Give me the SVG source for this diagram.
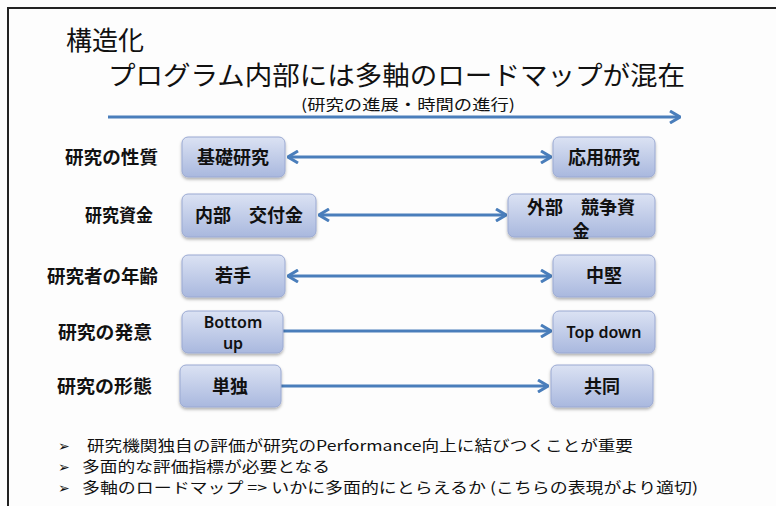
<svg xmlns="http://www.w3.org/2000/svg" width="776" height="506" viewBox="0 0 776 506">
<style>
  .cjk { font-family: "Noto Sans CJK JP", "Noto Sans", sans-serif; fill: #111; }
  .lbl { font-size: 18px; font-weight: 700; }
  .bt { font-size: 18px; font-weight: 700; text-anchor: middle; }
  .lat { font-family: "Noto Sans", "Noto Sans CJK JP", sans-serif; font-size: 16px; font-weight: 600; text-anchor: middle; fill: #111; }
  .box { fill: url(#g); stroke: #9aa9d2; stroke-width: 1; filter: url(#sh); }
  .arr { stroke: #4a7ebb; stroke-width: 3; fill: none; }
  .bul { font-size: 14.5px; }
  .mk { font-family: "DejaVu Sans", sans-serif; font-size: 14px; }
</style>
<defs>
  <linearGradient id="g" x1="0" y1="0" x2="0" y2="1">
    <stop offset="0" stop-color="#dbe2f3"/>
    <stop offset="1" stop-color="#a9b8de"/>
  </linearGradient>
  <filter id="sh" x="-10%" y="-10%" width="120%" height="140%">
    <feDropShadow dx="0" dy="2" stdDeviation="1.5" flood-color="#000" flood-opacity="0.3"/>
  </filter>
  <marker id="ah" viewBox="0 0 12 14" refX="11" refY="7" markerWidth="12" markerHeight="14" markerUnits="userSpaceOnUse" orient="auto-start-reverse">
    <path d="M1,1 L11,7 L1,13" fill="none" stroke="#4a7ebb" stroke-width="3" stroke-linejoin="miter"/>
  </marker>
</defs>
<rect x="0" y="0" width="776" height="506" fill="#fdfdfd"/>
<rect x="8" y="8" width="820" height="560" fill="none" stroke="#222" stroke-width="2"/>

<g id="title">
  <text class="cjk" x="66" y="50" font-size="26">構造化</text>
  <text class="cjk" x="108" y="85" font-size="26" textLength="577" lengthAdjust="spacingAndGlyphs">プログラム内部には多軸のロードマップが混在</text>
  <text class="cjk" x="301" y="110" font-size="15" textLength="214" lengthAdjust="spacingAndGlyphs">(研究の進展・時間の進行)</text>
</g>

<g id="connectors">
  <line class="arr" x1="108" y1="117" x2="680" y2="117" marker-end="url(#ah)"/>
  <line class="arr" x1="288" y1="157" x2="551" y2="157" marker-start="url(#ah)" marker-end="url(#ah)"/>
  <line class="arr" x1="319" y1="215" x2="506" y2="215" marker-start="url(#ah)" marker-end="url(#ah)"/>
  <line class="arr" x1="288" y1="276" x2="551" y2="276" marker-start="url(#ah)" marker-end="url(#ah)"/>
  <line class="arr" x1="283" y1="331" x2="551" y2="331" marker-end="url(#ah)"/>
  <line class="arr" x1="281" y1="386" x2="548" y2="386" marker-end="url(#ah)"/>
</g>

<g id="row-labels" class="cjk lbl">
  <text x="65" y="164" textLength="93" lengthAdjust="spacingAndGlyphs">研究の性質</text>
  <text x="85" y="222" textLength="68" lengthAdjust="spacingAndGlyphs">研究資金</text>
  <text x="47" y="283" textLength="111" lengthAdjust="spacingAndGlyphs">研究者の年齢</text>
  <text x="58" y="339" textLength="94" lengthAdjust="spacingAndGlyphs">研究の発意</text>
  <text x="57" y="393" textLength="95" lengthAdjust="spacingAndGlyphs">研究の形態</text>
</g>

<g id="n-kiso">
  <rect class="box" x="182" y="137" width="103" height="40" rx="6"/>
  <text class="cjk bt" x="233" y="164">基礎研究</text>
</g>
<g id="n-ouyou">
  <rect class="box" x="553" y="137" width="102" height="40" rx="6"/>
  <text class="cjk bt" x="604" y="164">応用研究</text>
</g>
<g id="n-naibu">
  <rect class="box" x="182" y="194" width="134" height="43" rx="6"/>
  <text class="cjk bt" x="249" y="222">内部　交付金</text>
</g>
<g id="n-gaibu">
  <rect class="box" x="508" y="194" width="147" height="43" rx="6"/>
  <text class="cjk bt" x="581" y="214" font-size="15" textLength="108" lengthAdjust="spacingAndGlyphs">外部　競争資</text>
  <text class="cjk bt" x="581" y="238" font-size="15" textLength="17" lengthAdjust="spacingAndGlyphs">金</text>
</g>
<g id="n-wakate">
  <rect class="box" x="182" y="255" width="103" height="42" rx="6"/>
  <text class="cjk bt" x="233" y="282">若手</text>
</g>
<g id="n-chuken">
  <rect class="box" x="553" y="255" width="102" height="42" rx="6"/>
  <text class="cjk bt" x="604" y="282">中堅</text>
</g>
<g id="n-bottomup">
  <rect class="box" x="182" y="311" width="101" height="42" rx="6"/>
  <text class="lat" x="233" y="328">Bottom</text>
  <text class="lat" x="233" y="349">up</text>
</g>
<g id="n-topdown">
  <rect class="box" x="553" y="311" width="102" height="42" rx="6"/>
  <text class="lat" x="604" y="338">Top down</text>
</g>
<g id="n-tandoku">
  <rect class="box" x="180" y="365" width="101" height="42" rx="6"/>
  <text class="cjk bt" x="230" y="393">単独</text>
</g>
<g id="n-kyodo">
  <rect class="box" x="551" y="365" width="102" height="42" rx="6"/>
  <text class="cjk bt" x="602" y="393">共同</text>
</g>

<g id="bullets" class="cjk bul">
  <text class="mk" x="58" y="451">➢</text>
  <text x="87" y="451" textLength="546" lengthAdjust="spacingAndGlyphs">研究機関独自の評価が研究のPerformance向上に結びつくことが重要</text>
  <text class="mk" x="58" y="472">➢</text>
  <text x="82" y="472" textLength="248" lengthAdjust="spacingAndGlyphs">多面的な評価指標が必要となる</text>
  <text class="mk" x="58" y="493">➢</text>
  <text x="82" y="493" textLength="616" lengthAdjust="spacingAndGlyphs">多軸のロードマップ =&gt; いかに多面的にとらえるか (こちらの表現がより適切)</text>
</g>
</svg>
